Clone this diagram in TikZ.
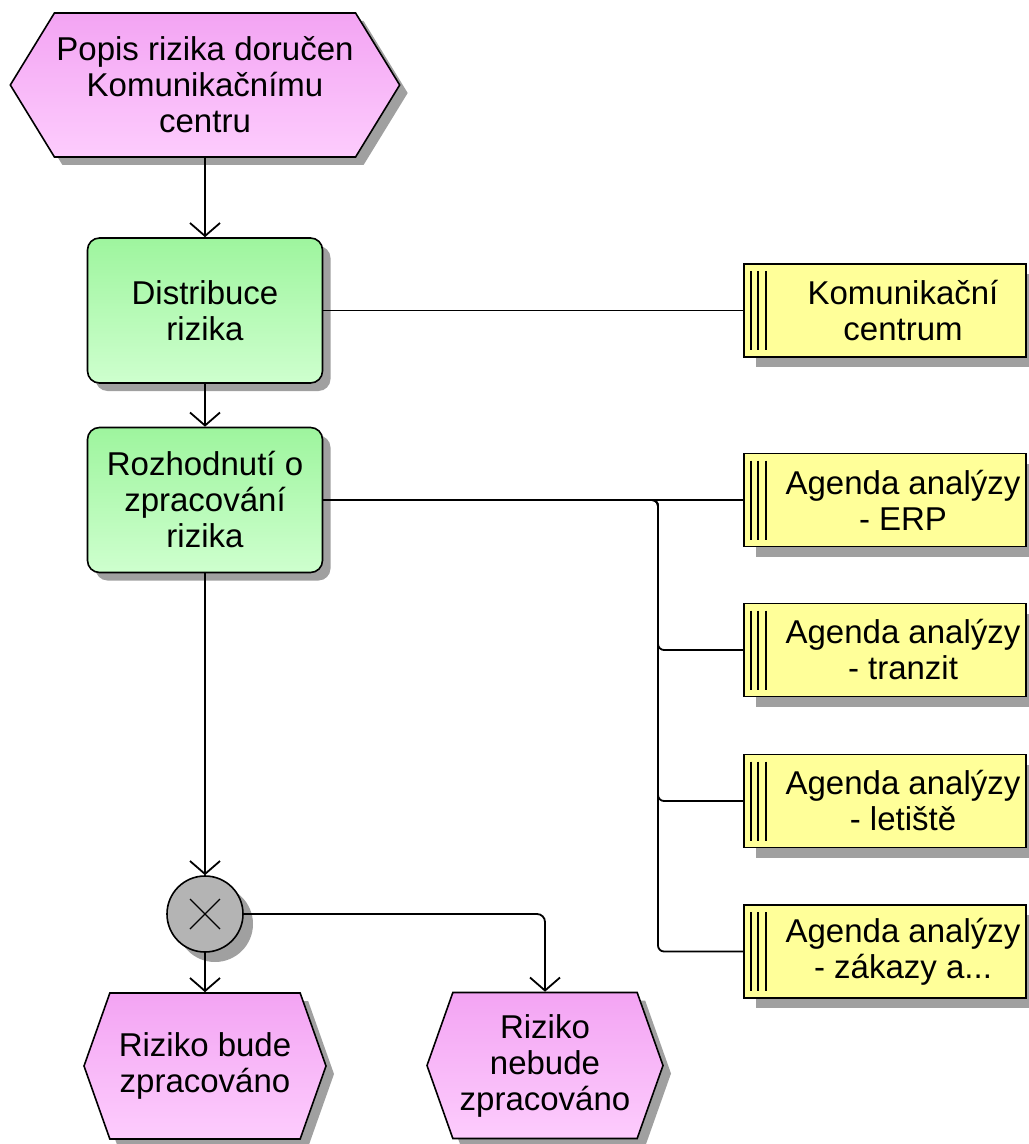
\documentclass[tikz,border=0pt]{standalone}
\usepackage{fontspec}
\setmainfont{Liberation Sans}
\usetikzlibrary{shapes.symbols,shadows,arrows.meta}

\definecolor{eventtop}{RGB}{243,164,243}
\definecolor{eventbot}{RGB}{253,204,253}
\definecolor{functop}{RGB}{158,245,158}
\definecolor{funcbot}{RGB}{206,255,206}
\definecolor{orgfill}{RGB}{255,255,153}
\definecolor{xorfill}{RGB}{180,180,180}
\definecolor{shade}{RGB}{160,160,160}

\begin{document}
\begin{tikzpicture}[x=0.5pt, y=-0.5pt,
    font=\fontsize{16.5}{18}\selectfont,
    every node/.style={align=center, line width=0.8pt},
    shade4/.style={drop shadow={shadow xshift=4pt, shadow yshift=-4pt, fill=shade, opacity=1}},
    event/.style={draw, signal, signal to=west and east, inner sep=1pt,
        top color=eventtop, bottom color=eventbot, shade4},
    func/.style={draw, rectangle, rounded corners=6pt, minimum width=117.5pt,
        minimum height=72.5pt, top color=functop, bottom color=funcbot, shade4},
    org/.style={draw, rectangle, fill=orgfill, minimum width=141pt, minimum height=46.5pt,
        drop shadow={shadow xshift=6pt, shadow yshift=-5pt, fill=shade, opacity=1},
        path picture={
            \foreach \dx in {3.5pt,7pt,11pt}
                \draw[line width=0.8pt] ([xshift=\dx, yshift=-3.5pt]path picture bounding box.north west)
                    -- ([xshift=\dx, yshift=3.5pt]path picture bounding box.south west);
        }},
    xor/.style={draw, circle, fill=xorfill, minimum size=38pt, inner sep=0pt,
        drop shadow={shadow xshift=5pt, shadow yshift=-5pt, fill=shade, opacity=1},
        path picture={
            \draw[line width=0.6pt] ([shift={(-7.5pt,-7.5pt)}]path picture bounding box.center) -- ++(15pt,15pt);
            \draw[line width=0.6pt] ([shift={(-7.5pt,7.5pt)}]path picture bounding box.center) -- ++(15pt,-15pt);
        }},
    link/.style={line width=0.9pt},
    flow/.style={link, -{Straight Barb[length=6.5pt, width=15pt]}}]

    \useasboundingbox (0,0) rectangle (1028,1144);

    % events and functions down the left side
    \node[event, minimum width=194pt, minimum height=72pt, signal pointer angle=117] (popis) at (205,85)
        {Popis rizika doručen\\Komunikačnímu\\centru};
    \node[func] (distribuce) at (205,310.5) {Distribuce\\rizika};
    \node[func] (rozhodnuti) at (205,500) {Rozhodnutí o\\zpracování\\rizika};
    \node[xor] (xor) at (205,914) {};
    \node[event, minimum width=121pt, minimum height=73pt, signal pointer angle=141] (bude) at (205,1066)
        {Riziko bude\\zpracováno};
    \node[event, minimum width=118pt, minimum height=73pt, signal pointer angle=141] (nebude) at (545,1065.5)
        {Riziko\\nebude\\zpracováno};

    % organisational units on the right
    \node[org, label={[xshift=9pt]center:Komunikační\\centrum}] (komunikacni) at (885,310.5) {};
    \foreach \y/\name/\txt in {500/erp/{- ERP}, 650/tranzit/{- tranzit},
                               801/letiste/{- letiště}, 951.5/zakazy/{- zákazy a...}} {
        \node[org, label={[xshift=9pt]center:Agenda analýzy\\\txt}] (agenda-\name) at (885,\y) {};
    }

    % control flow
    \draw[flow] (popis) -- (distribuce);
    \draw[flow] (distribuce) -- (rozhodnuti);
    \draw[flow] (rozhodnuti) -- (xor);
    \draw[flow] (xor) -- (bude);
    \draw[flow, rounded corners=4pt] (xor.east) -| (nebude.north);

    % assignments
    \coordinate (split) at (658,500);
    \draw[link] (distribuce.east) -- (komunikacni.west);
    \draw[link] (rozhodnuti.east) -- (agenda-erp.west);
    \foreach \name in {tranzit, letiste, zakazy}
        \draw[link, rounded corners=3pt] (rozhodnuti.east) -- (split) |- (agenda-\name.west);
\end{tikzpicture}
\end{document}
